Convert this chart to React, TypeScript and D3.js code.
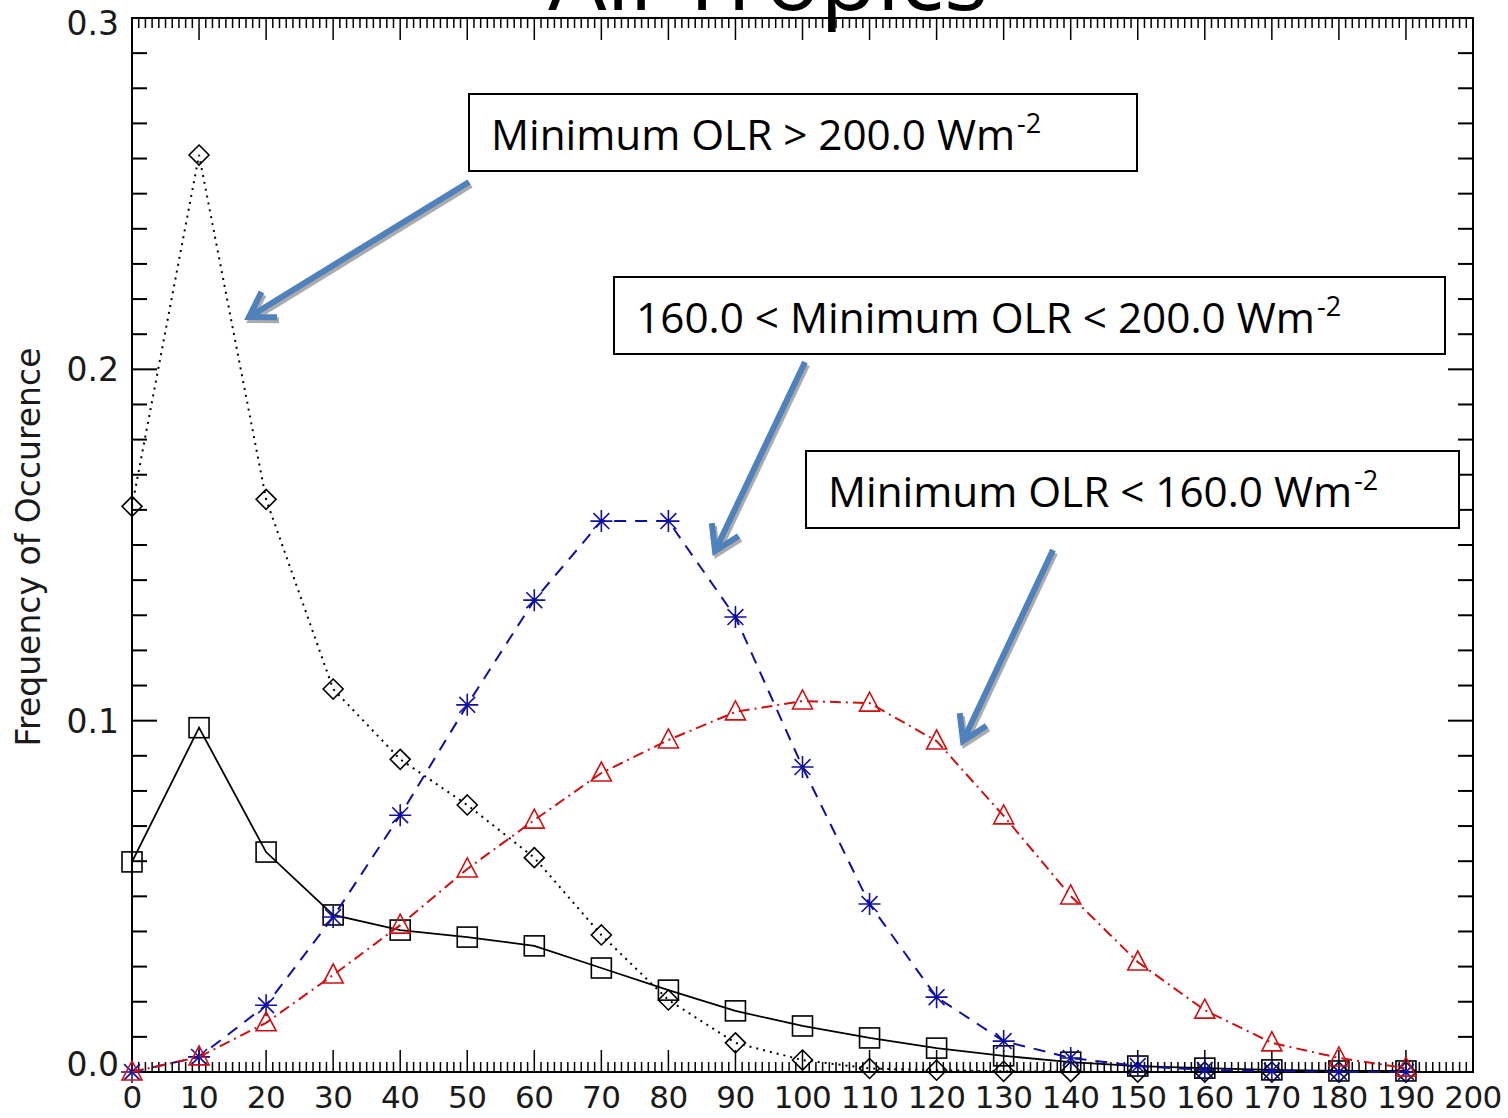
import React, { useEffect } from "react";
import * as d3 from "d3";

// ---- data ----
const xValues = [0, 10, 20, 30, 40, 50, 60, 70, 80, 90, 100, 110, 120, 130, 140, 150, 160, 170, 180, 190];
// Minimum OLR > 200 (black dotted, diamonds)
const olrAbove200 = [0.161, 0.261, 0.163, 0.109, 0.089, 0.076, 0.061, 0.039, 0.0205, 0.0083, 0.0034, 0.001, 0.0005, 0.0002, 0.0001, 0, 0, 0, 0, 0];
// All cases (black solid, squares)
const olrAll = [0.0598, 0.098, 0.0626, 0.0447, 0.0404, 0.0384, 0.0359, 0.0296, 0.0233, 0.0174, 0.0131, 0.0097, 0.0068, 0.0046, 0.0028, 0.0017, 0.0011, 0.0006, 0.0003, 0.0003];
// 160 < Minimum OLR < 200 (blue dashed, asterisks)
const olr160to200 = [0, 0.0043, 0.019, 0.0441, 0.0731, 0.1045, 0.1343, 0.1568, 0.1568, 0.1295, 0.0868, 0.0478, 0.0213, 0.0088, 0.004, 0.0017, 0.0006, 0.0003, 0, 0];
// Minimum OLR < 160 (red dash-dot, triangles)
const olrBelow160 = [0, 0.0043, 0.014, 0.0276, 0.0418, 0.0578, 0.0717, 0.0851, 0.0945, 0.1025, 0.1056, 0.105, 0.0942, 0.0729, 0.0501, 0.0313, 0.0176, 0.0083, 0.004, 0.0011];

const xTickValues = [0, 10, 20, 30, 40, 50, 60, 70, 80, 90, 100, 110, 120, 130, 140, 150, 160, 170, 180, 190, 200];
const xTickLabels = ["0", "10", "20", "30", "40", "50", "60", "70", "80", "90", "100", "110", "120", "130", "140", "150", "160", "170", "180", "190", "200"];
const yTickValues = [0, 0.1, 0.2, 0.3];
const yTickLabels = ["0.0", "0.1", "0.2", "0.3"];
const titleText = "All Tropics";
const yAxisTitle = "Frequency of Occurence";
const annotationTexts = ["Minimum OLR > 200.0 Wm", "160.0 < Minimum OLR < 200.0 Wm", "Minimum OLR < 160.0 Wm"];
const annotationSup = "-2";

const AXIS_FONT = "'DejaVu Sans', sans-serif";
const NOTE_FONT = "'Open Sans', 'Noto Sans', sans-serif";
const BLUE = "#1010a0";
const RED = "#d01010";
const ARROW = "#4f81bd";

function Marker({ kind, color }: { kind: string; color: string }) {
  const sw = 1.6;
  if (kind === "diamond") return <path d="M0,-10L10,0L0,10L-10,0Z" fill="none" stroke={color} strokeWidth={sw} />;
  if (kind === "square") return <rect x={-10} y={-10} width={20} height={20} fill="none" stroke={color} strokeWidth={sw} />;
  if (kind === "triangle") return <path d="M-10,8L10,8L0,-11Z" fill="none" stroke={color} strokeWidth={sw} />;
  // asterisk
  const r = 11;
  const d = r * 0.72;
  return (
    <path
      d={`M0,${-r}L0,${r}M${-r},0L${r},0M${-d},${-d}L${d},${d}M${-d},${d}L${d},${-d}`}
      stroke={color}
      strokeWidth={sw}
      fill="none"
    />
  );
}

function Arrow({ x1, y1, x2, y2 }: { x1: number; y1: number; x2: number; y2: number }) {
  const ang = Math.atan2(y2 - y1, x2 - x1);
  const L = 28;
  const spread = (32 * Math.PI) / 180;
  const b1x = x2 - L * Math.cos(ang - spread);
  const b1y = y2 - L * Math.sin(ang - spread);
  const b2x = x2 - L * Math.cos(ang + spread);
  const b2y = y2 - L * Math.sin(ang + spread);
  const d = `M${x1},${y1}L${x2},${y2}M${b1x},${b1y}L${x2},${y2}L${b2x},${b2y}`;
  return (
    <g>
      <path d={d} transform="translate(2,3)" stroke="#888" strokeWidth={6} fill="none" opacity={0.7} strokeLinejoin="miter" />
      <path d={d} stroke={ARROW} strokeWidth={6} fill="none" strokeLinejoin="miter" />
    </g>
  );
}

export default function App() {
  useEffect(() => {
    document.body.style.margin = "0";
  }, []);

  const W = 1508;
  const H = 1118;
  const x = d3.scaleLinear().domain([0, 200]).range([132, 1473]);
  const y = d3.scaleLinear().domain([0, 0.3]).range([1072, 18]);

  const line = d3
    .line<number>()
    .x((_, i) => x(xValues[i]))
    .y((v) => y(v));

  const series = [
    { data: olrAbove200, color: "#000", dash: "2,5", marker: "diamond", width: 2 },
    { data: olrAll, color: "#000", dash: "none", marker: "square", width: 1.8 },
    { data: olr160to200, color: BLUE, dash: "12,9", marker: "asterisk", width: 2 },
    { data: olrBelow160, color: RED, dash: "11,5,2,5", marker: "triangle", width: 2 },
  ];

  const [x0, x1] = x.range();
  const [yb, yt] = y.range();
  const xMinor = d3.range(0, 201, 1);
  const yMinor = d3.range(0, 31, 1).map((v) => v / 100);

  const notes = [
    { box: [469, 94, 1137, 171], tx: 491, ty: 150, len: 524, text: annotationTexts[0] },
    { box: [614, 277, 1445, 354], tx: 636, ty: 333, len: 679, text: annotationTexts[1] },
    { box: [806, 451, 1459, 528], tx: 828, ty: 507, len: 524, text: annotationTexts[2] },
  ];

  return (
    <svg width={W} height={H} style={{ display: "block", background: "#fff" }}>
      <rect x={0} y={0} width={W} height={H} fill="#fff" />
      {/* title (cut off at top, as in the original) */}
      <text x={768} y={10} textAnchor="middle" fontFamily={NOTE_FONT} fontSize={92} fill="#000">
        {titleText}
      </text>

      {/* frame */}
      <rect x={x0} y={yt} width={x1 - x0} height={yb - yt} fill="none" stroke="#000" strokeWidth={2} />

      {/* x ticks top and bottom */}
      {xMinor.map((v) => {
        const major = v % 10 === 0;
        const len = major ? 22 : 10;
        return (
          <g key={"xt" + v} stroke="#000" strokeWidth={1.5}>
            <line x1={x(v)} x2={x(v)} y1={yb} y2={yb - len} />
            <line x1={x(v)} x2={x(v)} y1={yt} y2={yt + len} />
          </g>
        );
      })}
      {/* y ticks left and right */}
      {yMinor.map((v, i) => {
        const major = i % 10 === 0;
        const len = major ? 25 : 15;
        return (
          <g key={"yt" + i} stroke="#000" strokeWidth={2}>
            <line x1={x0} x2={x0 + len} y1={y(v)} y2={y(v)} />
            <line x1={x1} x2={x1 - len} y1={y(v)} y2={y(v)} />
          </g>
        );
      })}

      {/* x tick labels */}
      {xTickValues.map((v, i) => (
        <text key={"xl" + v} x={x(v)} y={1108} textAnchor="middle" fontFamily={AXIS_FONT} fontSize={31} fill="#1a1a1a" letterSpacing={-0.5}>
          {xTickLabels[i]}
        </text>
      ))}
      {/* y tick labels */}
      {yTickValues.map((v, i) => {
        const cy = Math.min(Math.max(y(v), 23), 1064);
        return (
          <text key={"yl" + i} x={119} y={cy} dy="0.36em" textAnchor="end" fontFamily={AXIS_FONT} fontSize={33} fill="#1a1a1a">
            {yTickLabels[i]}
          </text>
        );
      })}
      {/* y axis title */}
      <text
        transform="translate(40,547) rotate(-90)"
        textAnchor="middle"
        fontFamily={AXIS_FONT}
        fontSize={33}
        fill="#1a1a1a"
      >
        {yAxisTitle}
      </text>

      {/* series */}
      {series.map((s, si) => (
        <g key={"s" + si}>
          <path d={line(s.data) || ""} fill="none" stroke={s.color} strokeWidth={s.width} strokeDasharray={s.dash} />
          {s.data.map((v, i) => (
            <g key={i} transform={`translate(${x(xValues[i])},${y(v)})`}>
              <Marker kind={s.marker} color={s.color} />
            </g>
          ))}
        </g>
      ))}

      {/* annotation boxes */}
      {notes.map((n, i) => (
        <g key={"n" + i}>
          <rect x={n.box[0]} y={n.box[1]} width={n.box[2] - n.box[0]} height={n.box[3] - n.box[1]} fill="#fff" stroke="#000" strokeWidth={2} />
          <text x={n.tx} y={n.ty} fontFamily={NOTE_FONT} fontSize={42} fill="#000" textLength={n.len} lengthAdjust="spacingAndGlyphs">
            {n.text}
          </text>
          <text x={n.tx + n.len + 2} y={n.ty - 17} fontFamily={NOTE_FONT} fontSize={27} fill="#000">
            {annotationSup}
          </text>
        </g>
      ))}

      {/* arrows */}
      <Arrow x1={469} y1={182} x2={249} y2={317} />
      <Arrow x1={805} y1={362} x2={715} y2={551} />
      <Arrow x1={1053} y1={550} x2={963} y2={741} />
    </svg>
  );
}
